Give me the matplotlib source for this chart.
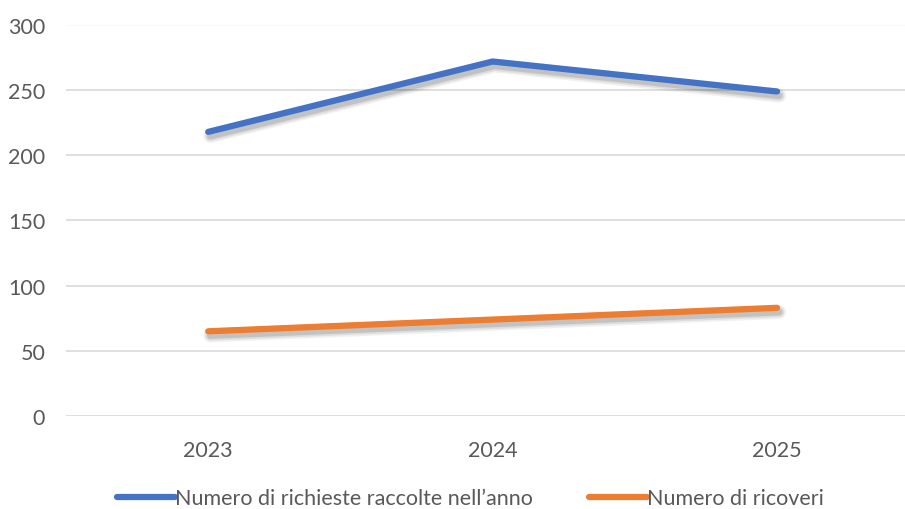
import matplotlib
matplotlib.use("Agg")
import matplotlib.pyplot as plt
import matplotlib.patheffects as pe

years = ["2023", "2024", "2025"]
richieste = [218, 272, 249]
ricoveri = [65, 74, 83]
series_names = ["Numero di richieste raccolte nell\u2019anno", "Numero di ricoveri"]
yticks = [0, 50, 100, 150, 200, 250, 300]

plt.rcParams['font.family'] = ['Lato', 'DejaVu Sans']

fig = plt.figure(figsize=(9.05, 5.10), dpi=100)
ax = fig.add_axes([66/905, 1 - 417/510, 1 - 66/905, (417 - 26)/510])

x = list(range(len(years)))
shadow = [
    pe.SimpleLineShadow(offset=(1.5, -3), shadow_color='black', alpha=0.06, linewidth=10),
    pe.SimpleLineShadow(offset=(1.5, -3), shadow_color='black', alpha=0.08, linewidth=7.5),
    pe.SimpleLineShadow(offset=(1.5, -3), shadow_color='black', alpha=0.12, linewidth=5),
    pe.Normal(),
]
ax.plot(x, richieste, color='#4472C4', lw=4.5, solid_capstyle='round', path_effects=shadow,
        label=series_names[0], zorder=3)
ax.plot(x, ricoveri, color='#ED7D31', lw=4.5, solid_capstyle='round', path_effects=shadow,
        label=series_names[1], zorder=3)

ax.set_ylim(0, 300)
ax.set_xlim(-0.5, (905 - 208) / 284.5)
ax.set_yticks(yticks)
ax.set_xticks(x)
ax.set_xticklabels(years)
for yv in yticks:
    ax.axhline(yv, color='#d9d9d9', lw=1.2, zorder=1, alpha=0.2 if yv == 300 else 1)
for s in ax.spines.values():
    s.set_visible(False)
ax.tick_params(length=0, labelsize=15.5, colors='#595959')
ax.tick_params(axis='y', pad=15)
ax.tick_params(axis='x', pad=17)

leg = fig.legend(loc='lower center', bbox_to_anchor=(0.52, -0.037), ncol=2, frameon=False,
                 fontsize=15.5, handlelength=2.7, handletextpad=0.0, columnspacing=2.6)
for t in leg.get_texts():
    t.set_color('#595959')
for h in leg.get_lines():
    h.set_path_effects([])
    h.set_linewidth(4.5)

fig.savefig("out.png", dpi=100)
